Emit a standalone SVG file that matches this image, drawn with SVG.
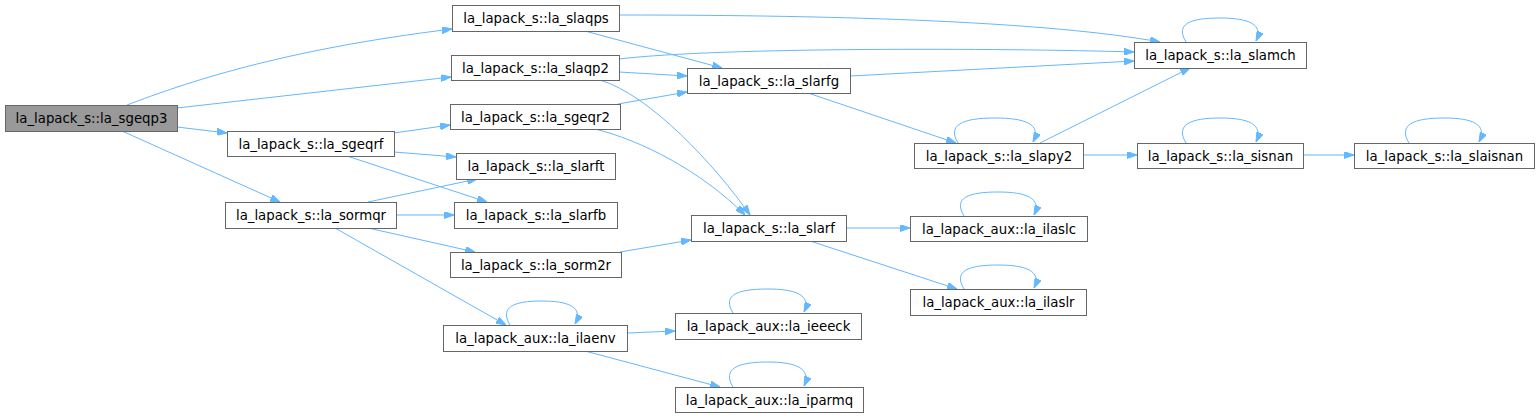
<svg xmlns="http://www.w3.org/2000/svg" width="1539" height="417" viewBox="0 0 1539 417">
<style>
.n rect{fill:#fff;stroke:#666;stroke-width:1}
.n.root rect{fill:#999}
.n text{font-family:"DejaVu Sans",sans-serif;font-size:13.3px;fill:#000;text-anchor:middle}
.e path{fill:none;stroke:#63b8ff;stroke-width:1;marker-end:url(#ah)}
</style>
<defs>
<marker id="ah" viewBox="0 0 10 7" refX="10" refY="3.5" markerWidth="10" markerHeight="7" markerUnits="userSpaceOnUse" orient="auto">
<path d="M0,0 L10,3.5 L0,7 z" fill="#63b8ff" stroke="#63b8ff"/>
</marker>
</defs>
<rect width="1539" height="417" fill="#fff"/>
<g id="edges" class="e">
<path d="M127,105 C185,83 280,50 452,29"/>
<path d="M177,108 L451,77"/>
<path d="M177,127 L227,133"/>
<path d="M122,131 L280,202"/>
<path d="M619,15 C850,15 1050,22 1160,42"/>
<path d="M585,31 L722,68"/>
<path d="M619,59 C720,47 1000,48 1134,52"/>
<path d="M619,72 L687,76"/>
<path d="M600,80 C650,95 715,165 750,215"/>
<path d="M850,76 L1134,61"/>
<path d="M808,93 L956,143"/>
<path d="M618,104 L687,92"/>
<path d="M595,129 C640,140 700,170 745,215"/>
<path d="M394,133 L450,125"/>
<path d="M394,152 L456,157"/>
<path d="M347,156 L487,202"/>
<path d="M368,202 L477,179"/>
<path d="M396,215 L454,215"/>
<path d="M368,228 L475,252"/>
<path d="M335,228 L506,325"/>
<path d="M620,252 L691,240"/>
<path d="M846,228 L910,228"/>
<path d="M810,241 L957,289"/>
<path d="M1040,143 L1190,68"/>
<path d="M1083,155 L1137,155"/>
<path d="M1303,155 L1354,155"/>
<path d="M627,333 L675,331"/>
<path d="M585,351 L720,387"/>
<path d="M1186,42 C1175,24 1190,18 1220,18 C1248,18 1264,24 1256,41"/>
<path d="M958,143 C947,125 962,118 995,118 C1025,118 1042,124 1033,142"/>
<path d="M1186,143 C1175,125 1190,118 1220,118 C1248,118 1264,124 1256,142"/>
<path d="M1409,143 C1398,125 1413,118 1444,118 C1472,118 1488,124 1479,142"/>
<path d="M964,216 C953,198 968,192 998,192 C1026,192 1042,198 1034,215"/>
<path d="M964,289 C953,271 968,265 998,265 C1026,265 1042,271 1034,288"/>
<path d="M510,325 C499,307 514,301 542,301 C568,301 584,307 575,324"/>
<path d="M733,313 C722,295 737,289 768,289 C795,289 812,295 804,312"/>
<path d="M733,387 C722,369 737,362 768,362 C795,362 812,368 804,386"/>
</g>
<g id="n_sgeqp3" class="n root"><rect x="5.5" y="105.5" width="172" height="26"/><text x="91.5" y="123">la_lapack_s::la_sgeqp3</text></g>
<g id="n_slaqps" class="n"><rect x="452.5" y="5.5" width="167" height="26"/><text x="536" y="23">la_lapack_s::la_slaqps</text></g>
<g id="n_slaqp2" class="n"><rect x="451.5" y="55.5" width="168" height="25"/><text x="535.5" y="72.5">la_lapack_s::la_slaqp2</text></g>
<g id="n_sgeqr2" class="n"><rect x="450.5" y="104.5" width="170" height="25"/><text x="535.5" y="121.5">la_lapack_s::la_sgeqr2</text></g>
<g id="n_slarft" class="n"><rect x="456.5" y="153.5" width="159" height="26"/><text x="536" y="171">la_lapack_s::la_slarft</text></g>
<g id="n_slarfb" class="n"><rect x="454.5" y="202.5" width="163" height="26"/><text x="536" y="220">la_lapack_s::la_slarfb</text></g>
<g id="n_sgeqrf" class="n"><rect x="227.5" y="131.5" width="167" height="25"/><text x="311" y="148.5">la_lapack_s::la_sgeqrf</text></g>
<g id="n_sormqr" class="n"><rect x="225.5" y="202.5" width="171" height="26"/><text x="311" y="220">la_lapack_s::la_sormqr</text></g>
<g id="n_slarfg" class="n"><rect x="687.5" y="68.5" width="163" height="25"/><text x="769" y="85.5">la_lapack_s::la_slarfg</text></g>
<g id="n_slarf" class="n"><rect x="691.5" y="215.5" width="155" height="26"/><text x="769" y="233">la_lapack_s::la_slarf</text></g>
<g id="n_sorm2r" class="n"><rect x="450.5" y="252.5" width="171" height="25"/><text x="536" y="269.5">la_lapack_s::la_sorm2r</text></g>
<g id="n_ilaenv" class="n"><rect x="443.5" y="325.5" width="184" height="26"/><text x="535.5" y="343">la_lapack_aux::la_ilaenv</text></g>
<g id="n_ieeeck" class="n"><rect x="675.5" y="313.5" width="186" height="26"/><text x="768.5" y="331">la_lapack_aux::la_ieeeck</text></g>
<g id="n_iparmq" class="n"><rect x="675.5" y="387.5" width="188" height="25"/><text x="769.5" y="404.5">la_lapack_aux::la_iparmq</text></g>
<g id="n_slamch" class="n"><rect x="1134.5" y="42.5" width="172" height="26"/><text x="1220.5" y="60">la_lapack_s::la_slamch</text></g>
<g id="n_slapy2" class="n"><rect x="914.5" y="143.5" width="169" height="25"/><text x="999" y="160.5">la_lapack_s::la_slapy2</text></g>
<g id="n_sisnan" class="n"><rect x="1137.5" y="143.5" width="166" height="25"/><text x="1220.5" y="160.5">la_lapack_s::la_sisnan</text></g>
<g id="n_slaisnan" class="n"><rect x="1354.5" y="143.5" width="180" height="25"/><text x="1444.5" y="160.5">la_lapack_s::la_slaisnan</text></g>
<g id="n_ilaslc" class="n"><rect x="910.5" y="216.5" width="177" height="25"/><text x="999" y="233.5">la_lapack_aux::la_ilaslc</text></g>
<g id="n_ilaslr" class="n"><rect x="910.5" y="289.5" width="176" height="26"/><text x="998.5" y="307">la_lapack_aux::la_ilaslr</text></g>
</svg>
